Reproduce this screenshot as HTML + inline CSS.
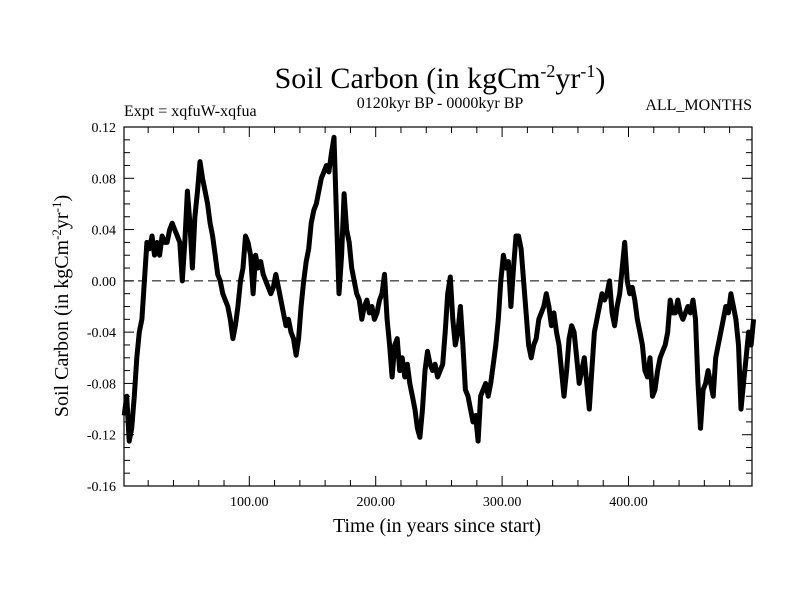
<!DOCTYPE html>
<html><head><meta charset="utf-8"><style>
body{margin:0;background:#fff;}
svg text{font-family:"Liberation Serif",serif;fill:#000;}
</style></head><body>
<svg id="chart" width="800" height="600" xmlns="http://www.w3.org/2000/svg">
<rect width="800" height="600" fill="#fff"/>
<text x="440" y="88" font-size="30" text-anchor="middle">Soil Carbon (in kgCm<tspan font-size="18" dy="-11">-2</tspan><tspan dy="11">yr</tspan><tspan font-size="18" dy="-11">-1</tspan><tspan dy="11">)</tspan></text>
<text x="124" y="116" font-size="16">Expt = xqfuW-xqfua</text>
<text x="440" y="108" font-size="16" text-anchor="middle">0120kyr BP - 0000kyr BP</text>
<text x="752" y="110" font-size="16" text-anchor="end">ALL_MONTHS</text>
<text x="437" y="532" font-size="20" text-anchor="middle">Time (in years since start)</text>
<text transform="translate(68,306) rotate(-90)" font-size="20" text-anchor="middle">Soil Carbon (in kgCm<tspan font-size="13" dy="-7">-2</tspan><tspan dy="7">yr</tspan><tspan font-size="13" dy="-7">-1</tspan><tspan dy="7">)</tspan></text>
<g id="axes"></g>
<g id="series"></g>
</svg>
<script>
const xs = [1,3,5,7,9,11,13,15,17,19,21,23,25,27,29,31,33,35,37,39,41,43,45,47,49,51,53,55,57,59,61,63,65,67,69,71,73,75,77,79,81,83,85,87,89,91,93,95,97,99,101,103,105,107,109,111,113,115,117,119,121,123,125,127,129,131,133,135,137,139,141,143,145,147,149,151,153,155,157,159,161,163,165,167,169,171,173,175,177,179,181,183,185,187,189,191,193,195,197,199,201,203,205,207,209,211,213,215,217,219,221,223,225,227,229,231,233,235,237,239,241,243,245,247,249,251,253,255,257,259,261,263,265,267,269,271,273,275,277,279,281,283,285,287,289,291,293,295,297,299,301,303,305,307,309,311,313,315,317,319,321,323,325,327,329,331,333,335,337,339,341,343,345,347,349,351,353,355,357,359,361,363,365,367,369,371,373,375,377,379,381,383,385,387,389,391,393,395,397,399,401,403,405,407,409,411,413,415,417,419,421,423,425,427,429,431,433,435,437,439,441,443,445,447,449,451,453,455,457,459,461,463,465,467,469,471,473,475,477,479,481,483,485,487,489,491,493,495,497,499];
const soilCarbon = [-0.105,-0.09,-0.125,-0.115,-0.09,-0.06,-0.04,-0.03,0.0,0.03,0.025,0.035,0.02,0.03,0.02,0.035,0.03,0.03,0.04,0.045,0.04,0.035,0.03,0.0,0.03,0.07,0.045,0.01,0.05,0.07,0.093,0.08,0.07,0.06,0.045,0.035,0.02,0.005,0.0,-0.01,-0.015,-0.02,-0.03,-0.045,-0.035,-0.02,0.0,0.01,0.035,0.03,0.02,-0.01,0.02,0.01,0.015,0.005,0.0,-0.005,-0.01,-0.005,0.005,-0.005,-0.015,-0.025,-0.035,-0.03,-0.04,-0.045,-0.058,-0.045,-0.02,0.0,0.015,0.025,0.045,0.055,0.06,0.07,0.08,0.085,0.09,0.085,0.1,0.112,0.05,-0.01,0.02,0.068,0.04,0.03,0.01,0.0,-0.01,-0.015,-0.03,-0.02,-0.015,-0.025,-0.02,-0.03,-0.025,-0.015,-0.01,0.005,-0.03,-0.05,-0.075,-0.05,-0.045,-0.07,-0.06,-0.075,-0.065,-0.08,-0.09,-0.1,-0.115,-0.122,-0.1,-0.07,-0.055,-0.065,-0.07,-0.065,-0.075,-0.07,-0.065,-0.04,-0.01,0.003,-0.03,-0.05,-0.04,-0.02,-0.05,-0.085,-0.09,-0.1,-0.11,-0.105,-0.125,-0.09,-0.085,-0.08,-0.09,-0.08,-0.065,-0.05,-0.03,0.0,0.02,0.01,0.015,-0.02,0.01,0.035,0.035,0.025,0.0,-0.025,-0.05,-0.06,-0.05,-0.045,-0.03,-0.025,-0.02,-0.01,-0.02,-0.035,-0.025,-0.04,-0.05,-0.07,-0.09,-0.07,-0.045,-0.035,-0.04,-0.06,-0.08,-0.07,-0.06,-0.08,-0.1,-0.07,-0.04,-0.03,-0.02,-0.01,-0.015,-0.01,0.0,-0.025,-0.035,-0.02,-0.01,0.01,0.03,0.0,-0.01,-0.005,-0.015,-0.03,-0.04,-0.05,-0.07,-0.075,-0.06,-0.09,-0.085,-0.07,-0.06,-0.055,-0.05,-0.04,-0.015,-0.025,-0.025,-0.015,-0.025,-0.03,-0.025,-0.02,-0.025,-0.015,-0.03,-0.08,-0.115,-0.085,-0.08,-0.07,-0.08,-0.09,-0.06,-0.05,-0.04,-0.03,-0.02,-0.025,-0.01,-0.02,-0.03,-0.05,-0.1,-0.08,-0.06,-0.04,-0.05,-0.03];
const yTicks = [0.12,0.08,0.04,0.00,-0.04,-0.08,-0.12,-0.16];
const yTickLabels = ["0.12","0.08","0.04","0.00","-0.04","-0.08","-0.12","-0.16"];
const xTicks = [100,200,300,400];
const xTickLabels = ["100.00","200.00","300.00","400.00"];

const NS="http://www.w3.org/2000/svg";
const L=124,R=752,T=127,B=486, X0=122.9, XS=1.264;
const sx=v=>X0+v*XS;
const sy=v=>T+(0.12-v)/(0.28)*(B-T);
const axes=document.getElementById('axes');
function mk(tag,attrs,parent){const e=document.createElementNS(NS,tag);for(const k in attrs)e.setAttribute(k,attrs[k]);parent.appendChild(e);return e;}
const z=mk('line',{x1:L,x2:R,y1:sy(0),y2:sy(0),stroke:'#000','stroke-width':1,'stroke-dasharray':'9,5'},axes);


for(let v=20;v<500;v+=20){const major=v%100===0;const len=major?10:6;
  const t1=mk('line',{x1:sx(v),x2:sx(v),y1:B,y2:B-len,stroke:'#000','stroke-width':1},axes);
  
  
  const t2=mk('line',{x1:sx(v),x2:sx(v),y1:T,y2:T+len,stroke:'#000','stroke-width':1},axes);
  
  }
for(let i=-16;i<=12;i++){const v=i/100;const major=i%4===0;const len=major?10:6;
  const t1=mk('line',{x1:L,x2:L+len,y1:sy(v),y2:sy(v),stroke:'#000','stroke-width':1},axes);
  
  
  const t2=mk('line',{x1:R,x2:R-len,y1:sy(v),y2:sy(v),stroke:'#000','stroke-width':1},axes);
  
  }
yTicks.forEach((v,i)=>{const t=mk('text',{x:L-8,y:sy(v)+5,'font-size':14,'text-anchor':'end'},axes);t.textContent=yTickLabels[i];
  
  });
xTicks.forEach((v,i)=>{const t=mk('text',{x:sx(v),y:B+20,'font-size':14,'text-anchor':'middle'},axes);t.textContent=xTickLabels[i];
  
  });
const fr=mk('rect',{x:L,y:T,width:R-L,height:B-T,fill:'none',stroke:'#000','stroke-width':1.2},axes);


const d=xs.map((x,i)=>(i?'L':'M')+sx(x).toFixed(1)+','+sy(soilCarbon[i]).toFixed(1)).join(' ');
const p=mk('path',{d:d,fill:'none',stroke:'#000','stroke-width':5,'stroke-linejoin':'round'},document.getElementById('series'));


</script>
</body></html>
